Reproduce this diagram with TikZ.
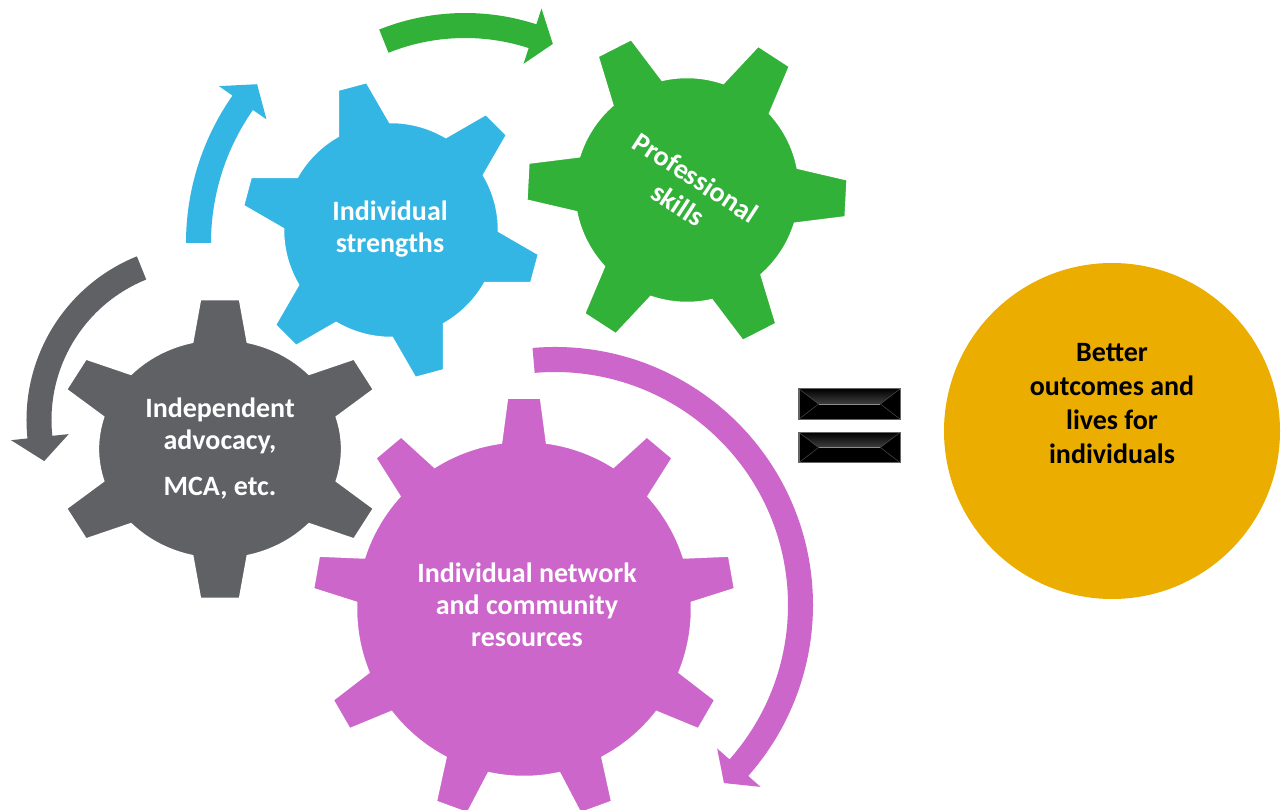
\documentclass[tikz,border=0pt]{standalone}
\usepackage{fontspec}
\setmainfont{Carlito}

\definecolor{gearGrey}{RGB}{96,97,101}
\definecolor{gearBlue}{RGB}{52,182,228}
\definecolor{gearGreen}{RGB}{50,177,56}
\definecolor{gearPurple}{RGB}{204,102,203}
\definecolor{outcomeGold}{RGB}{235,173,0}

\tikzset{
  gearline/.style={draw=white, line width=2.5pt},
  geartext/.style={text=white, align=center, font=\bfseries\fontsize{28}{32}\selectfont},
  goldtext/.style={text=black, align=center, font=\bfseries\fontsize{28}{34}\selectfont},
  eqbar/.style={rectangle, fill=black, draw=black!60, line width=0.8pt, minimum width=101pt, minimum height=30pt, inner sep=0pt},
}

% gear round (0,0): colour, teeth, first tooth angle, body r, tip r, base half width, tip half width
\newcommand\gearshape[7]{%
  \pgfmathsetmacro\gstep{360/#2}
  \pgfmathsetmacro\gbase{asin(#6/#4)}
  \pgfmathsetmacro\gtip{asin(#7/#5)}
  \filldraw[gearline, fill=#1] ({#3+\gbase}:#4pt)
    \foreach \k in {1,...,#2}{
      arc[start angle={#3+(\k-1)*\gstep+\gbase}, end angle={#3+\k*\gstep-\gbase}, radius=#4pt]
      -- ({#3+\k*\gstep-\gtip}:#5pt)
      -- ({#3+\k*\gstep+\gtip}:#5pt)
      -- ({#3+\k*\gstep+\gbase}:#4pt)
    } -- cycle;
}

% curved block arrow round (0,0): colour, mid radius, start angle, head base angle, tip angle
\newcommand\turnarrow[5]{%
  \pgfmathsetmacro\ain{#2-12.5}
  \pgfmathsetmacro\aout{#2+12.5}
  \pgfmathsetmacro\hin{#2-29}
  \pgfmathsetmacro\hout{#2+29}
  \fill[#1] (#3:\aout pt) arc[start angle=#3, end angle=#4, radius=\aout pt]
    -- (#4:\hout pt) -- (#5:#2pt) -- (#4:\hin pt) -- (#4:\ain pt)
    arc[start angle=#4, end angle=#3, radius=\ain pt] -- cycle;
}

\begin{document}
\begin{tikzpicture}[x=1pt, y=1pt]
\useasboundingbox (0,0) rectangle (1287,809);
\fill[white] (0,0) rectangle (1287,809);

\coordinate (greyC) at (220,360);
\coordinate (blueC) at (391,579);
\coordinate (greenC) at (687,619);
\coordinate (purpleC) at (524,200);
\coordinate (greyTurn) at (203,389);
\coordinate (blueTurn) at (443,566);
\coordinate (greenTurn) at (465,565);
\coordinate (purpleTurn) at (555,204);

% arrows
\begin{scope}[shift={(greyTurn)}]
\turnarrow{gearGrey}{164}{112}{186}{194.5}
\end{scope}
\begin{scope}[shift={(blueTurn)}]
\turnarrow{gearBlue}{244.5}{180}{145}{139.5}
\end{scope}
\begin{scope}[shift={(greenTurn)}]
\turnarrow{gearGreen}{218.5}{111.8}{72}{66.3}
\end{scope}
\begin{scope}[shift={(purpleTurn)}]
\turnarrow{gearPurple}{245.5}{95}{-41.5}{-46.5}
\end{scope}

% gears
\begin{scope}[shift={(greyC)}, xscale=1.11]
\gearshape{gearGrey}{6}{90}{110}{151}{25}{18}
\end{scope}
\begin{scope}[shift={(blueC)}]
\gearshape{gearBlue}{6}{105}{108}{150}{27}{15}
\end{scope}
\begin{scope}[shift={(greenC)}]
\gearshape{gearGreen}{6}{-3}{113}{161}{28}{19}
\end{scope}
\begin{scope}[shift={(purpleC)}]
\gearshape{gearPurple}{9}{90}{168}{212}{23}{17}
\end{scope}

\node[geartext] (greyText) at (220,360) {Independent\\advocacy,\\[14pt]MCA, etc.};
\node[geartext] (blueText) at (390,580) {Individual\\strengths};
\node[geartext, rotate=-33] (greenText) at (687,618) {Professional\\skills};
\node[geartext] (purpleText) at (527,204) {Individual network\\and community\\resources};

% equals sign
\node[eqbar] (eqTop) at (849.5,405) {};
\node[eqbar] (eqBottom) at (849.5,361.5) {};
\foreach \b in {eqTop,eqBottom}{
  \shade[top color=black, bottom color=black!75] (\b.north west) -- (\b.north east) -- ([xshift=-20pt]\b.east) -- ([xshift=20pt]\b.west) -- cycle;
  \draw[black!45, line width=0.8pt] ([xshift=20pt]\b.west) -- ([xshift=-20pt]\b.east);
  \draw[black!70, line width=0.5pt] (\b.north west) -- ([xshift=20pt]\b.west) -- (\b.south west);
  \draw[black!70, line width=0.5pt] (\b.north east) -- ([xshift=-20pt]\b.east) -- (\b.south east);
  \draw[black!60, line width=0.8pt] (\b.north west) rectangle (\b.south east);
}

\node[circle, fill=outcomeGold, minimum size=336pt, inner sep=0pt] (outcome) at (1112,378) {};
\node[goldtext] (outcomeText) at (1112,405) {Better\\outcomes and\\lives for\\individuals};
\end{tikzpicture}
\end{document}
